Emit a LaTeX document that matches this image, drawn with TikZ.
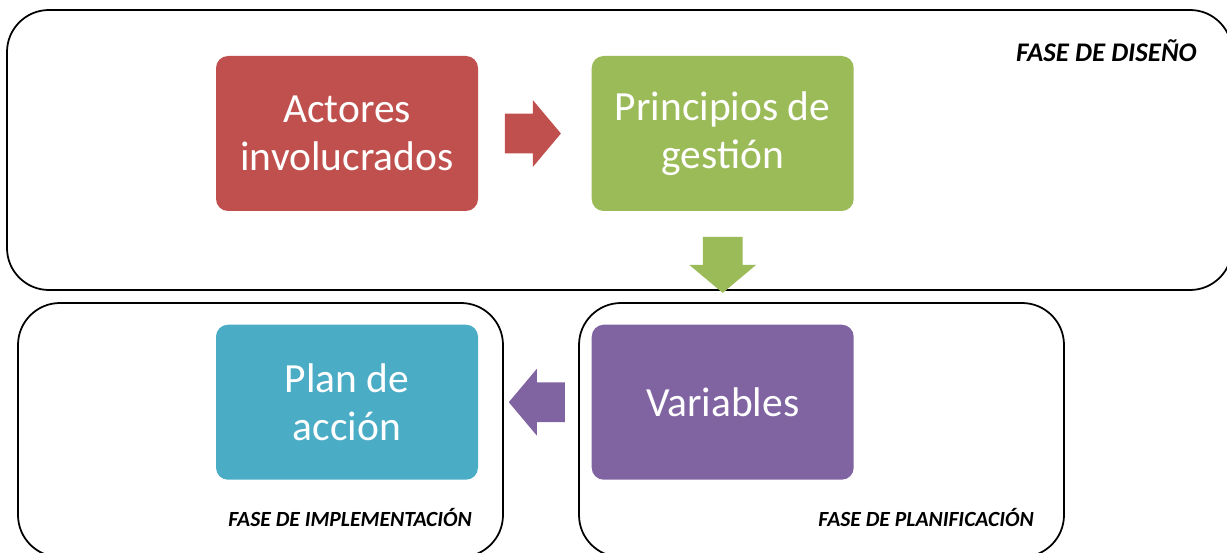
\documentclass[tikz,border=0pt]{standalone}
\usepackage{fontspec}
\setmainfont{Carlito}
\usepackage{tikz}
\usetikzlibrary{shapes.arrows, positioning, calc}
\definecolor{rojo}{HTML}{C0504D}
\definecolor{verde}{HTML}{9BBB59}
\definecolor{morado}{HTML}{8064A2}
\definecolor{turquesa}{HTML}{4BACC6}
\tikzstyle{bloque} = [rectangle, rounded corners=0.24cm, minimum width=5.24cm, minimum height=3.1cm, align=center, text=white, font=\fontsize{23.6}{27.5}\selectfont]
\tikzstyle{flecha} = [single arrow, draw=none, anchor=tip, minimum width=1.32cm, minimum height=1.12cm, inner xsep=0pt, inner ysep=0.39cm, single arrow head extend=0.27cm, single arrow tip angle=100]
\tikzstyle{marco} = [line width=1pt, rounded corners=0.84cm]
\tikzstyle{fase} = [font=\bfseries\itshape, inner sep=0pt]

\begin{document}
\begin{tikzpicture}[node distance=2.26cm]
	\useasboundingbox (0,0) rectangle (24.54,-11.06);
	\clip (0,0) rectangle (24.54,-11.06);
	% marcos de las fases
	\draw[marco] (0.14,-0.20) rectangle (24.64,-5.80);
	\draw[marco] (0.36,-6.06) rectangle (10.06,-11.14);
	\draw[marco] (11.58,-6.06) rectangle (21.28,-11.14);

	\node(actores) [bloque, fill=rojo] at (6.94,-2.67) {Actores\\involucrados};
	\node(principios) [bloque, fill=verde, right=of actores] {Principios de\\gestión};
	\node(variables) [bloque, fill=morado, below=of principios] {Variables};
	\node(plan) [bloque, fill=turquesa, left=of variables] {Plan de\\acción};

	\node(disenio) [fase, anchor=east, font=\fontsize{15.3}{17}\selectfont\bfseries\itshape] at (23.94,-1.02) {FASE DE DISEÑO};
	\node(implementacion) [fase, font=\fontsize{12.3}{14}\selectfont\bfseries\itshape] at (7.00,-10.34) {FASE DE IMPLEMENTACIÓN};
	\node(planificacion) [fase, font=\fontsize{12.3}{14}\selectfont\bfseries\itshape] at (18.52,-10.34) {FASE DE PLANIFICACIÓN};

	\node(flechaA) [flecha, fill=rojo] at ($(principios.west)+(-0.6,0)$) {};
	\node(flechaB) [flecha, fill=verde, rotate=-90] at ($(variables.north)+(0,0.62)$) {};
	\node(flechaC) [flecha, fill=morado, rotate=180] at ($(plan.east)+(0.6,0)$) {};
\end{tikzpicture}
\end{document}
